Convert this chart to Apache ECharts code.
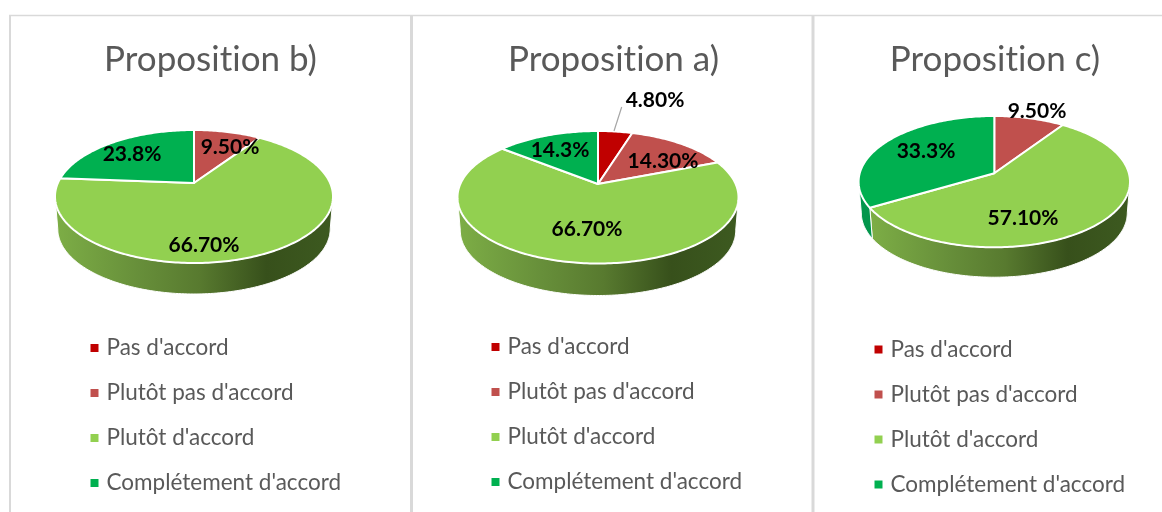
<!DOCTYPE html>
<html><head><meta charset="utf-8">
<style>html,body{margin:0;padding:0;background:#fff}#c{width:1162px;height:512px}</style>
<script src="https://cdn.jsdelivr.net/npm/echarts@6/dist/echarts.min.js"></script>
</head><body><div id="c"></div>
<script>
const categories = ["Pas d'accord", "Plutôt pas d'accord", "Plutôt d'accord", "Complétement d'accord"];
const titles = ['Proposition b)', 'Proposition a)', 'Proposition c)'];
const valuesB = [0, 9.5, 66.7, 23.8];
const valuesA = [4.8, 14.3, 66.7, 14.3];
const valuesC = [0, 9.5, 57.1, 33.3];
const labelsB = ['', '9.50%', '66.70%', '23.8%'];
const labelsA = ['4.80%', '14.30%', '66.70%', '14.3%'];
const labelsC = ['', '9.50%', '57.10%', '33.3%'];

// The reference font has no "ti" ligature: draw text without ligatures.
const nativeFill = CanvasRenderingContext2D.prototype.fillText;
CanvasRenderingContext2D.prototype.fillText = function(){
  this.textRendering = 'optimizeSpeed';
  return nativeFill.apply(this, arguments);
};

const colors = ['#C00000', '#C0504D', '#92D050', '#00B050'];
const sideFill = [
  '#8f0000', '#8f3c39',
  {type:'linear',x:0,y:0,x2:1,y2:0,colorStops:[
    {offset:0,color:'#7dae46'},{offset:.3,color:'#678f3a'},{offset:.52,color:'#587a2f'},
    {offset:.76,color:'#37501b'},{offset:1,color:'#3d5a20'}]},
  '#03964c'
];
const font = 'Lato, Carlito, "Open Sans", sans-serif';
const panels = [
  {values:valuesB, labels:labelsB, cx:194, apexY:183, up:53, down:80, half:139, depth:32.6, titleX:210.5, legendX:90.5, legendY:336.5,
   pos:[null,[230,147],[204,245],[132,154]]},
  {values:valuesA, labels:labelsA, cx:598, apexY:184, up:53, down:79.5, half:140.5, depth:33.6, titleX:613.5, legendX:491.5, legendY:335.5,
   pos:[[655,100],[663,161],[587,229],[560,150]], leader:[[621.7,107],[614,131]]},
  {values:valuesC, labels:labelsC, cx:994.3, apexY:173.3, up:57.3, down:74, half:135.7, depth:31.4, titleX:995, legendX:874.5, legendY:338,
   pos:[null,[1037,111],[1023,218],[926,151]]}
];
const rad = Math.PI/180, lowerScale = 0.98;

function geom(p){
  const k = (p.down-p.up)/(p.down+p.up), A = p.up*(1+k), R = p.half*Math.sqrt(1-k*k);
  const at = (th,s,dy)=>{const d=1+k*Math.cos(th*rad);
    return [p.cx+R*s*Math.sin(th*rad)/d, p.apexY-A*s*Math.cos(th*rad)/d+dy];};
  const front = Math.acos(-k)/rad;
  return {at, thR:front, thL:360-front};
}

const series = [];
panels.forEach((p,pi)=>{
  const g = geom(p);
  const total = p.values.reduce((a,b)=>a+b,0);
  let cum = 0;
  p.values.forEach((v,i)=>{
    const startVal = cum; cum += v;
    series.push({
      type:'custom', name:categories[i], coordinateSystem:'none',
      itemStyle:{color:colors[i]}, silent:true, animation:false,
      data:[[v]],
      renderItem:(params,api)=>{
        const val = api.value(0);
        if(!val) return {type:'group',children:[]};
        const s = startVal/total*360, e = (startVal+val)/total*360;
        const kids = [];
        const a = Math.max(s,g.thR), b = Math.min(e,g.thL);
        if(a<b){
          const pts=[];
          for(let t=a;t<b;t+=1) pts.push(g.at(t,1,0));
          pts.push(g.at(b,1,0));
          for(let t=b;t>a;t-=1) pts.push(g.at(t,lowerScale,p.depth));
          pts.push(g.at(a,lowerScale,p.depth));
          kids.push({type:'polygon',z2:1,shape:{points:pts},style:{fill:sideFill[i],stroke:'#fff',lineWidth:1}});
        }
        const top=[[p.cx,p.apexY]];
        for(let t=s;t<e;t+=1) top.push(g.at(t,1,0));
        top.push(g.at(e,1,0));
        kids.push({type:'polygon',z2:5,shape:{points:top},style:{fill:colors[i],stroke:'#fff',lineWidth:2,lineJoin:'round'}});
        if(i===0 && p.leader){
          kids.push({type:'polyline',z2:20,shape:{points:p.leader},style:{fill:'none',stroke:'#a6a6a6',lineWidth:1.2}});
        }
        if(p.pos[i]){
          kids.push({type:'text',z2:30,x:p.pos[i][0],y:p.pos[i][1],
            style:{text:p.labels[i],fill:'#000',font:'bold 21px '+font,textAlign:'center',textVerticalAlign:'middle'}});
        }
        return {type:'group',children:kids};
      }
    });
  });
});

const frame = {stroke:'#d9d9d9'};
const chart = echarts.init(document.getElementById('c'),null,{renderer:'canvas'});
chart.setOption({
  animation:false,
  backgroundColor:'#fff',
  title:panels.map((p,i)=>({text:titles[i],left:p.titleX,top:42,padding:0,textAlign:'center',
    textStyle:{fontFamily:font,fontSize:35,fontWeight:'normal',color:'#595959'}})),
  legend:panels.map(p=>({
    show:true,orient:'vertical',left:p.legendX,top:p.legendY,padding:0,
    data:categories,icon:'rect',itemWidth:8,itemHeight:8,itemGap:22,selectedMode:false,
    textStyle:{fontFamily:font,fontSize:22.5,color:'#595959',lineHeight:20,padding:[0,0,0,3]}
  })),
  graphic:[
    {type:'line',shape:{x1:9,y1:15.5,x2:1162,y2:15.5},style:{...frame,lineWidth:1.5},silent:true},
    {type:'line',shape:{x1:10,y1:15,x2:10,y2:512},style:{...frame,lineWidth:2},silent:true},
    {type:'line',shape:{x1:411.5,y1:15,x2:411.5,y2:512},style:{...frame,lineWidth:3},silent:true},
    {type:'line',shape:{x1:813,y1:15,x2:813,y2:512},style:{...frame,lineWidth:3},silent:true}
  ],
  series
});
</script></body></html>
